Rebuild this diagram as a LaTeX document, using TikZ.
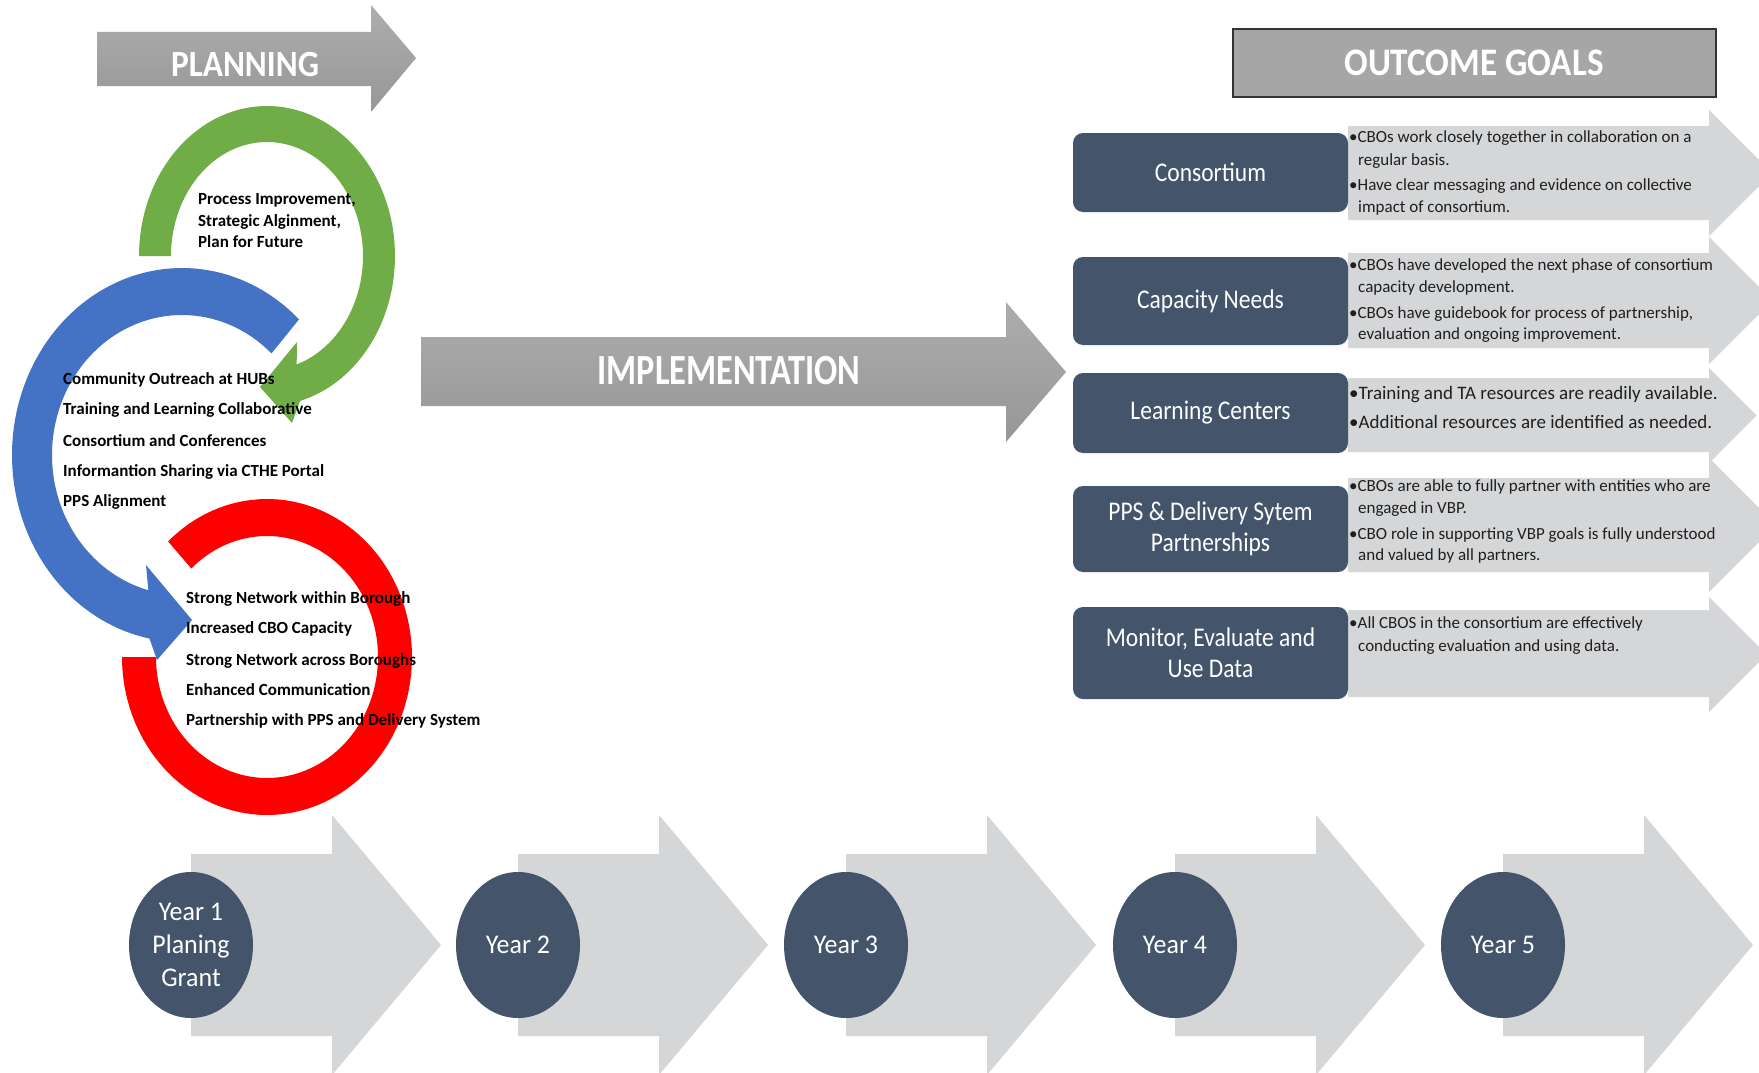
\documentclass[tikz,border=0pt]{standalone}
\usepackage{fontspec}
\setmainfont{Carlito}
\newfontfamily\hdfont[FakeStretch=0.8]{Carlito}
\newfontfamily\hdwfont[FakeStretch=0.9]{Carlito}
\newfontfamily\boxfont[FakeStretch=0.87]{Carlito}
\newfontfamily\yrfont[FakeStretch=0.96]{Carlito}
\usetikzlibrary{shapes.geometric}
\definecolor{slate}{HTML}{44546A}
\definecolor{lgray}{HTML}{D5D6D8}
\definecolor{ggreen}{HTML}{70AD47}
\definecolor{gblue}{HTML}{4472C4}
\definecolor{gred}{HTML}{FF0000}
\definecolor{hgray}{HTML}{A6A6A6}
\tikzset{
  lefttxt/.style={anchor=base west, inner sep=0pt, font=\fontsize{17}{20}\selectfont\bfseries, text=black},
  bul/.style={anchor=base west, inner sep=0pt, font=\fontsize{17}{20}\selectfont, text=black!88},
  bulbig/.style={anchor=base west, inner sep=0pt, font=\fontsize{19}{22}\selectfont, text=black!88},
  goalbox/.style={rectangle, rounded corners=10pt, fill=slate, text=white, minimum width=275pt, align=center, inner sep=0pt, font=\boxfont\fontsize{27}{31}\selectfont},
  yearell/.style={ellipse, fill=slate, minimum width=124pt, minimum height=146pt, inner sep=0pt, text=white, align=center, font=\yrfont\fontsize{27}{33}\selectfont},
  hdtxt/.style={inner sep=0pt, text=white, font=\hdfont\bfseries\fontsize{37}{40}\selectfont},
  bigarrow/.style={top color=black!32, bottom color=black!41, draw=none},
}
\begin{document}
\begin{tikzpicture}[x=1pt,y=-1pt]
\useasboundingbox (0,0) rectangle (1759,1073);
\clip (0,0) rectangle (1759,1073);
\fill[white] (0,0) rectangle (1759,1073);

% PLANNING arrow
\shade[bigarrow] (97,32) -- (371,32) -- (371,5) -- (416,58) -- (371,112) -- (371,86) -- (97,86) -- cycle;
\node[hdtxt, font=\hdwfont\bfseries\fontsize{37}{40}\selectfont] (planning) at (245,64) {PLANNING};

% IMPLEMENTATION arrow
\shade[bigarrow] (421,337) -- (1006,337) -- (1006,302) -- (1066,372) -- (1006,442) -- (1006,406) -- (421,406) -- cycle;
\node[hdtxt, font=\hdfont\bfseries\fontsize{43}{46}\selectfont] (impl) at (729,371) {IMPLEMENTATION};

% OUTCOME GOALS
\node[rectangle, fill=hgray, draw=black!80, line width=1.5pt, minimum width=483pt, minimum height=68pt, inner sep=0pt] (goalsbox) at (1474.5,63) {};
\node[hdtxt, font=\hdwfont\bfseries\fontsize{39}{44}\selectfont] (goals) at (1474,63) {OUTCOME GOALS};

% rings
\fill[gred] plot[variable=\t, domain=227:540, samples=120] ({267+145*cos(\t)},{657+158*sin(\t)})
  -- plot[variable=\t, domain=540:227, samples=120] ({267+111*cos(\t)},{657+121*sin(\t)}) -- cycle;
\fill[ggreen] plot[variable=\t, domain=180:435, samples=100] ({267+128*cos(\t)},{256+150*sin(\t)})
  -- (292,423) -- (260,387) -- (297,342)
  -- plot[variable=\t, domain=432:180, samples=100] ({267+96*cos(\t)},{256+114*sin(\t)}) -- cycle;
\fill[gblue] plot[variable=\t, domain=313.5:101, samples=100] ({182+170*cos(\t)},{455+187*sin(\t)})
  -- (157,660) -- (192,620) -- (146,565)
  -- plot[variable=\t, domain=105:313.5, samples=100] ({182+130*cos(\t)},{455+140*sin(\t)}) -- cycle;

% left texts
\node[lefttxt] (g1) at (198,204) {Process Improvement,};
\node[lefttxt] (g2) at (198,226) {Strategic Alginment,};
\node[lefttxt] (g3) at (198,247) {Plan for Future};
\node[lefttxt] (b1) at (63,384) {Community Outreach at HUBs};
\node[lefttxt] (b2) at (63,414) {Training and Learning Collaborative};
\node[lefttxt] (b3) at (63,446) {Consortium and Conferences};
\node[lefttxt] (b4) at (63,476) {Informantion Sharing via CTHE Portal};
\node[lefttxt] (b5) at (63,506) {PPS Alignment};
\node[lefttxt] (r1) at (186,603) {Strong Network within Borough};
\node[lefttxt] (r2) at (186,633) {Increased CBO Capacity};
\node[lefttxt] (r3) at (186,665) {Strong Network across Boroughs};
\node[lefttxt] (r4) at (186,695) {Enhanced Communication};
\node[lefttxt] (r5) at (186,725) {Partnership with PPS and Delivery System};

% right arrows
\foreach \bt/\bb/\ht/\hb in {126/220/110/236, 253/348/237/364, 378/452/368/463, 478/572/458/592, 610/697/597/712}{
  \fill[lgray] (1348,\bt) -- (1709,\bt) -- (1709,\ht) -- ({1709+(\hb-\ht)/2},{(\ht+\hb)/2}) -- (1709,\hb) -- (1709,\bb) -- (1348,\bb) -- cycle;
}
\node[goalbox, minimum height=79pt] (consortium) at (1210.5,172.5) {Consortium};
\node[goalbox, minimum height=88pt] (capacity) at (1210.5,301) {Capacity Needs};
\node[goalbox, minimum height=80pt] (learning) at (1210.5,413) {Learning Centers};
\node[goalbox, minimum height=86pt] (pps) at (1210.5,529) {PPS \& Delivery Sytem\\Partnerships};
\node[goalbox, minimum height=92pt] (monitor) at (1210.5,653) {Monitor, Evaluate and\\Use Data};

\node[bul] (c1) at (1349,142) {•CBOs work closely together in collaboration on a};
\node[bul] (c2) at (1358,165) {regular basis.};
\node[bul] (c3) at (1349,190) {•Have clear messaging and evidence on collective};
\node[bul] (c4) at (1358,212) {impact of consortium.};
\node[bul] (n1) at (1349,270) {•CBOs have developed the next phase of consortium};
\node[bul] (n2) at (1358,292) {capacity development.};
\node[bul] (n3) at (1349,318) {•CBOs have guidebook for process of partnership,};
\node[bul] (n4) at (1358,339) {evaluation and ongoing improvement.};
\node[bulbig] (l1) at (1349,399) {•Training and TA resources are readily available.};
\node[bulbig] (l2) at (1349,428) {•Additional resources are identified as needed.};
\node[bul] (p1) at (1349,491) {•CBOs are able to fully partner with entities who are};
\node[bul] (p2) at (1358,513) {engaged in VBP.};
\node[bul] (p3) at (1349,539) {•CBO role in supporting VBP goals is fully understood};
\node[bul] (p4) at (1358,560) {and valued by all partners.};
\node[bul] (m1) at (1349,628) {•All CBOS in the consortium are effectively};
\node[bul] (m2) at (1358,651) {conducting evaluation and using data.};

% year timeline
\foreach \cx in {191,518,846,1175,1503}{
  \fill[lgray] (\cx,854) -- (\cx+141,854) -- (\cx+141,815) -- (\cx+250,945) -- (\cx+141,1075) -- (\cx+141,1036) -- (\cx,1036) -- cycle;
}
\node[yearell] (y1) at (191,945) {Year 1\\Planing\\Grant};
\node[yearell] (y2) at (518,945) {Year 2};
\node[yearell] (y3) at (846,945) {Year 3};
\node[yearell] (y4) at (1175,945) {Year 4};
\node[yearell] (y5) at (1503,945) {Year 5};
\end{tikzpicture}
\end{document}
